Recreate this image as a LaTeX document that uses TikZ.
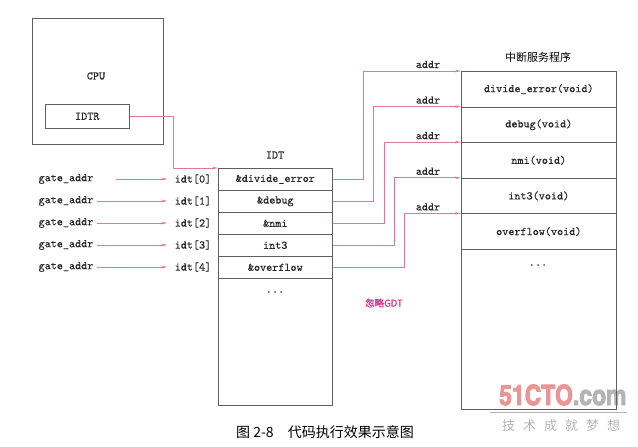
\documentclass[tikz,border=0pt]{standalone}
\usepackage{fontspec}
\usepackage{tikz}
\usetikzlibrary{arrows.meta}
\newfontfamily\cjk{Noto Sans CJK SC}
\newfontfamily\notefont{Noto Sans CJK SC}[FakeBold=1]
\newfontfamily\codefont{lmmono10-regular}[Extension=.otf, FakeBold=0.4]
\newfontfamily\wmfont{texgyreheroscn-bold}[Extension=.otf, FakeBold=3]
\definecolor{linkpink}{RGB}{228,118,158}
\definecolor{boxgray}{RGB}{95,95,95}
\definecolor{notemagenta}{RGB}{215,45,145}
\definecolor{wmred}{RGB}{234,150,150}
\definecolor{wmgray}{RGB}{180,180,180}

\begin{document}
\begin{tikzpicture}[x=1pt, y=-1pt,
  box/.style={draw=boxgray, line width=0.6pt, inner sep=0pt, anchor=north west},
  idtrow/.style={box, minimum width=114pt, minimum height=22pt},
  isrrow/.style={box, minimum width=155pt, minimum height=35.6pt},
  code/.style={font=\codefont\fontsize{11.6}{13}\selectfont, text=black!85},
  link/.style={draw=linkpink, line width=0.7pt, -{Stealth[length=6pt, width=2.6pt]}}]
  \useasboundingbox (0,0) rectangle (638,447);

  % watermark (under the boxes)
  \node[font=\wmfont\fontsize{28}{30}\selectfont, anchor=base west, inner sep=0pt] (wmlogo) at (499,405)
    {\textcolor{wmred}{51CTO}\textcolor{wmgray}{.com}};
  \draw[wmgray, line width=0.6pt] (490,412) -- (627,412);
  \node[font=\cjk\fontsize{13}{15}\selectfont, text=wmgray, anchor=west, inner sep=0pt] (wmtext) at (502,426)
    {技\hspace{8pt}术\hspace{8pt}成\hspace{8pt}就\hspace{8pt}梦\hspace{8pt}想};

  % CPU with its IDTR register
  \node[box, minimum width=131pt, minimum height=126pt] (cpu) at (32,18) {};
  \node[code] (cpulabel) at (96,76) {CPU};
  \node[box, minimum width=84pt, minimum height=24pt, code] (idtr) at (45,104) {IDTR};

  % IDT table
  \node[code] (idtlabel) at (275,155) {IDT};
  \foreach \i/\t in {0/{\&divide\_error}, 1/{\&debug}, 2/{\&nmi}, 3/{int3}, 4/{\&overflow}}
    \node[idtrow, code] (idt\i) at (218,{168+22*\i}) {\t};
  \node[box, minimum width=114pt, minimum height=127pt] (idt5) at (218,278) {};
  \node[code] (idtmore) at (275,292) {...};

  % gate addresses into the table
  \foreach \i in {0,...,4} {
    \node[code] (gate\i) at (66,{179+22*\i}) {gate\_addr};
    \node[code] (idx\i) at (193,{179+22*\i}) {idt[\i]};
  }
  \draw[link, shorten >=4pt] ([xshift=19pt]gate0.east) -- (idx0.west);
  \foreach \i in {1,...,4}
    \draw[link, shorten >=4pt] (gate\i.east) -- (idx\i.west);

  % interrupt service routines
  \node[font=\cjk\fontsize{11}{13}\selectfont] (isrtitle) at (538,57) {中断服务程序};
  \foreach \i/\t in {0/{divide\_error(void)}, 1/{debug(void)}, 2/{nmi(void)}, 3/{int3(void)}, 4/{overflow(void)}}
    \node[isrrow, code] (isr\i) at (461,{71+35.6*\i}) {\t};
  \node[box, minimum width=155pt, minimum height=160pt] (isr5) at (461,249) {};
  \node[code] (isrmore) at (538,265) {...};

  % links
  \draw[link] (idtr.east) -- ++(44,0) |- (idt0.north west);
  \foreach \i in {0,...,4} {
    \draw[link] (idt\i.east) -- ++({31+10.2*\i},0) |- (isr\i.north west);
    \node[code, anchor=base] (addr\i) at (428,{71+35.6*\i-3}) {addr};
  }

  \node[font=\notefont\fontsize{9.5}{11}\selectfont, text=notemagenta] (note) at (384,303) {忽略GDT};

  % caption
  \node[font=\cjk\fontsize{14}{16}\selectfont] (caption) at (325,432) {图 2-8\quad 代码执行效果示意图};
\end{tikzpicture}
\end{document}
